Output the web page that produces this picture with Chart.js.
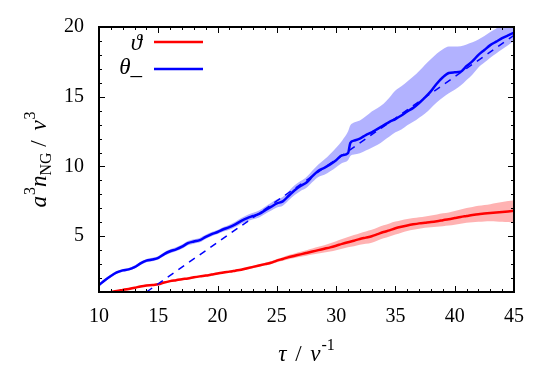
<!DOCTYPE html>
<html><head><meta charset="utf-8">
<script src="https://cdn.jsdelivr.net/npm/chart.js@4/dist/chart.umd.min.js"></script>
<style>html,body{margin:0;padding:0;background:#fff}#wrap{width:556px;height:389px}</style>
</head><body><div id="wrap"><canvas id="c" width="556" height="389"></canvas></div>
<script>
// ---- data ----
const blueTau = [10,10.5,11,11.5,12,12.5,13,13.5,14,14.5,15,15.5,16,16.5,17,17.5,18,18.5,19,19.5,20,20.5,21,21.5,22,22.5,23,23.5,24,24.5,25,25.5,26,26.5,27,27.5,28,28.5,29,29.5,30,30.5,31,31.2,31.5,32,32.5,33,33.5,34,34.5,35,35.5,36,36.5,37,37.5,38,38.5,39,39.5,40,40.5,41,41.5,42,42.5,43,43.5,44,44.5,45];
const blueLine = [1.5,1.85,2.15,2.4,2.55,2.62,2.78,3.05,3.25,3.33,3.45,3.72,3.92,4.06,4.25,4.5,4.62,4.72,4.95,5.15,5.3,5.5,5.65,5.85,6.1,6.3,6.45,6.6,6.85,7.1,7.35,7.5,7.9,8.3,8.6,8.85,9.3,9.7,9.9,10.15,10.45,10.8,10.95,11.7,11.85,12.0,12.25,12.45,12.7,12.95,13.2,13.4,13.65,13.95,14.2,14.55,14.95,15.4,15.95,16.4,16.7,16.75,16.8,17.2,17.55,18.0,18.35,18.7,18.95,19.2,19.4,19.6];
const blueUpper = [1.6,1.95,2.25,2.5,2.65,2.72,2.9,3.17,3.37,3.45,3.57,3.85,4.06,4.2,4.4,4.66,4.78,4.88,5.1,5.3,5.45,5.66,5.83,6.04,6.3,6.52,6.68,6.85,7.12,7.38,7.65,7.82,8.23,8.65,8.95,9.25,9.72,10.15,10.5,10.9,11.35,11.85,12.5,12.95,13.15,13.3,13.6,13.95,14.2,14.5,14.95,15.45,15.75,16.1,16.45,16.85,17.3,17.7,18.1,18.4,18.6,18.6,18.62,18.75,18.9,19.1,19.35,19.65,19.9,20.2,20.4,20.5];
const blueLower = [1.4,1.75,2.05,2.3,2.45,2.52,2.68,2.93,3.13,3.21,3.33,3.6,3.78,3.92,4.1,4.35,4.46,4.56,4.8,5.0,5.15,5.34,5.47,5.66,5.9,6.08,6.22,6.35,6.6,6.82,7.05,7.18,7.57,7.95,8.25,8.47,8.88,9.25,9.4,9.65,9.95,10.25,10.45,10.75,10.85,10.95,11.15,11.35,11.55,11.85,12.15,12.45,12.65,12.95,13.2,13.5,13.8,14.2,14.6,14.95,15.25,15.5,15.8,16.2,16.6,17.1,17.45,17.8,18.1,18.4,18.7,19.0];

const redTau = [11,11.5,12,12.5,13,13.5,14,14.5,15,15.5,16,16.5,17,17.5,18,18.5,19,19.5,20,20.5,21,21.5,22,22.5,23,23.5,24,24.5,25,25.5,26,26.5,27,27.5,28,28.5,29,29.5,30,30.5,31,31.5,32,32.5,33,33.5,34,34.5,35,35.5,36,36.5,37,37.5,38,38.5,39,39.5,40,40.5,41,41.5,42,42.5,43,43.5,44,44.5,45];
const redLine = [1.0,1.08,1.15,1.22,1.3,1.4,1.47,1.5,1.55,1.68,1.78,1.85,1.92,1.97,2.05,2.12,2.18,2.25,2.32,2.4,2.46,2.53,2.6,2.7,2.8,2.9,3.0,3.1,3.25,3.37,3.5,3.6,3.7,3.8,3.9,4.0,4.1,4.2,4.32,4.45,4.57,4.68,4.8,4.9,5.0,5.15,5.3,5.42,5.57,5.68,5.77,5.85,5.92,5.97,6.02,6.08,6.15,6.22,6.3,6.38,6.45,6.52,6.58,6.62,6.66,6.7,6.74,6.78,6.82];
const redUpper = [1.06,1.14,1.21,1.28,1.36,1.46,1.53,1.56,1.61,1.74,1.84,1.91,1.98,2.03,2.11,2.18,2.25,2.32,2.39,2.47,2.54,2.61,2.68,2.79,2.89,2.99,3.1,3.21,3.37,3.5,3.65,3.76,3.88,4.0,4.12,4.24,4.36,4.49,4.64,4.8,4.95,5.08,5.22,5.34,5.46,5.62,5.78,5.92,6.05,6.15,6.23,6.3,6.36,6.42,6.48,6.56,6.64,6.7,6.8,6.92,7.02,7.1,7.18,7.24,7.3,7.38,7.46,7.52,7.58];
const redLower = [0.94,1.02,1.09,1.16,1.24,1.34,1.41,1.44,1.49,1.62,1.72,1.79,1.86,1.91,1.99,2.06,2.11,2.18,2.25,2.33,2.38,2.45,2.52,2.61,2.71,2.81,2.9,2.99,3.13,3.24,3.35,3.44,3.52,3.6,3.68,3.76,3.84,3.91,4.0,4.1,4.2,4.28,4.38,4.46,4.54,4.7,4.85,4.98,5.12,5.25,5.38,5.47,5.54,5.6,5.65,5.68,5.72,5.76,5.82,5.9,5.96,6.0,6.03,6.05,6.07,6.06,6.04,6.02,6.0];

const fitTau = [14.0, 45];
const fitValues = [1.0, 19.4];

const xTickValues = [10,15,20,25,30,35,40,45];
const yTickValues = [5,10,15,20];
const xMinorStep = 1, yMinorStep = 1;
const legendLabels = ['ϑ', 'θ_'];
const legendColors = ['#ff0000', '#0000ff'];

// ---- drawing ----
const SERIF = '"Liberation Serif","DejaVu Serif",serif';
const pts = (xs, ys) => xs.map((t, i) => ({x: t, y: ys[i]}));

function drawRich(ctx, segs, x, y, align) {
  let total = 0;
  segs.forEach(s => { ctx.font = s.font; s.w = ctx.measureText(s.t).width + (s.gap || 0); total += s.w; });
  let cx = align === 'center' ? x - total / 2 : (align === 'right' ? x - total : x);
  segs.forEach(s => { ctx.font = s.font; ctx.fillText(s.t, cx, y + (s.dy || 0)); cx += s.w; });
}

const framePlugin = {
  id: 'frame',
  afterDatasetsDraw(chart) {
    const {ctx, chartArea: a, scales: {x, y}} = chart;
    ctx.save();
    ctx.strokeStyle = '#000';
    ctx.lineWidth = 1;
    ctx.beginPath();
    for (let v = x.min; v <= x.max + 1e-9; v += xMinorStep) {
      const px = Math.round(x.getPixelForValue(v)) + 0.5;
      const len = xTickValues.includes(v) ? 6 : 3;
      ctx.moveTo(px, a.bottom); ctx.lineTo(px, a.bottom - len);
      ctx.moveTo(px, a.top); ctx.lineTo(px, a.top + len);
    }
    for (let v = y.min; v <= y.max + 1e-9; v += yMinorStep) {
      const py = Math.round(y.getPixelForValue(v)) + 0.5;
      const len = yTickValues.includes(v) ? 6 : 3;
      ctx.moveTo(a.left, py); ctx.lineTo(a.left + len, py);
      ctx.moveTo(a.right, py); ctx.lineTo(a.right - len, py);
    }
    ctx.stroke();
    ctx.lineWidth = 2;
    ctx.strokeRect(a.left, a.top, a.right - a.left, a.bottom - a.top);
    ctx.restore();
  },
  afterDraw(chart) {
    const {ctx, chartArea: a} = chart;
    ctx.save();
    ctx.fillStyle = '#000';
    ctx.textBaseline = 'alphabetic';
    const big = 'italic 23px ' + SERIF, rom = '23px ' + SERIF, small = '16px ' + SERIF;
    // x title
    drawRich(ctx, [
      {t: 'τ', font: big, gap: 3}, {t: ' / ', font: rom, gap: 3}, {t: 'v', font: big, gap: 1}, {t: '-1', font: small, dy: -11}
    ], (a.left + a.right) / 2, 361, 'center');
    // y title
    ctx.save();
    ctx.translate(46, (a.top + a.bottom) / 2);
    ctx.rotate(-Math.PI / 2);
    drawRich(ctx, [
      {t: 'a', font: big, gap: 1}, {t: '3', font: small, dy: -11}, {t: 'n', font: big},
      {t: 'NG', font: small, dy: 5}, {t: ' / ', font: rom, gap: 4}, {t: 'v', font: big, gap: 1}, {t: '3', font: small, dy: -11}
    ], 0, 0, 'center');
    ctx.restore();
    // legend
    const rows = [{y: 42, base: 50}, {y: 69, base: 74}];
    rows.forEach((r, i) => {
      ctx.font = big;
      ctx.textAlign = 'right';
      ctx.fillText(legendLabels[i], 142, r.base);
      ctx.strokeStyle = legendColors[i];
      ctx.lineWidth = 2.5;
      ctx.beginPath(); ctx.moveTo(154, r.y); ctx.lineTo(203, r.y); ctx.stroke();
    });
    ctx.restore();
  }
};

const band = (xs, ys, color, fill) => ({
  data: pts(xs, ys), borderWidth: 0, pointRadius: 0, backgroundColor: color,
  borderColor: 'rgba(0,0,0,0)', fill: fill, cubicInterpolationMode: 'monotone'
});

new Chart(document.getElementById('c'), {
  type: 'line',
  data: {
    datasets: [
      band(blueTau, blueUpper, 'rgba(0,0,255,0.3)', '+1'),
      band(blueTau, blueLower, 'rgba(0,0,255,0.3)', false),
      band(redTau, redUpper, 'rgba(255,0,0,0.3)', '+1'),
      band(redTau, redLower, 'rgba(255,0,0,0.3)', false),
      {data: pts(fitTau, fitValues), borderColor: '#0000ff', borderWidth: 1.5, borderDash: [7, 6], pointRadius: 0, fill: false},
      {data: pts(redTau, redLine), borderColor: '#ff0000', borderWidth: 2.5, pointRadius: 0, fill: false, cubicInterpolationMode: 'monotone'},
      {data: pts(blueTau, blueLine), borderColor: '#0000ff', borderWidth: 2.5, pointRadius: 0, fill: false, cubicInterpolationMode: 'monotone'}
    ]
  },
  options: {
    responsive: false, animation: false, devicePixelRatio: 1,
    plugins: {legend: {display: false}, tooltip: {enabled: false}},
    layout: {padding: {left: 0, right: 42, top: 22, bottom: 0}},
    scales: {
      x: {
        type: 'linear', min: 10, max: 45,
        afterBuildTicks: s => { s.ticks = xTickValues.map(v => ({value: v})); },
        afterFit: s => { s.height = 97; },
        grid: {display: false, drawTicks: false}, border: {display: false},
        ticks: {color: '#000', font: {family: SERIF, size: 20}, padding: 13, maxRotation: 0, autoSkip: false}
      },
      y: {
        type: 'linear', min: 1, max: 20,
        afterBuildTicks: s => { s.ticks = yTickValues.map(v => ({value: v})); },
        afterFit: s => { s.width = 99; },
        grid: {display: false, drawTicks: false}, border: {display: false},
        ticks: {color: '#000', font: {family: SERIF, size: 20}, padding: 15, autoSkip: false}
      }
    }
  },
  plugins: [framePlugin]
});
</script>
</body></html>
